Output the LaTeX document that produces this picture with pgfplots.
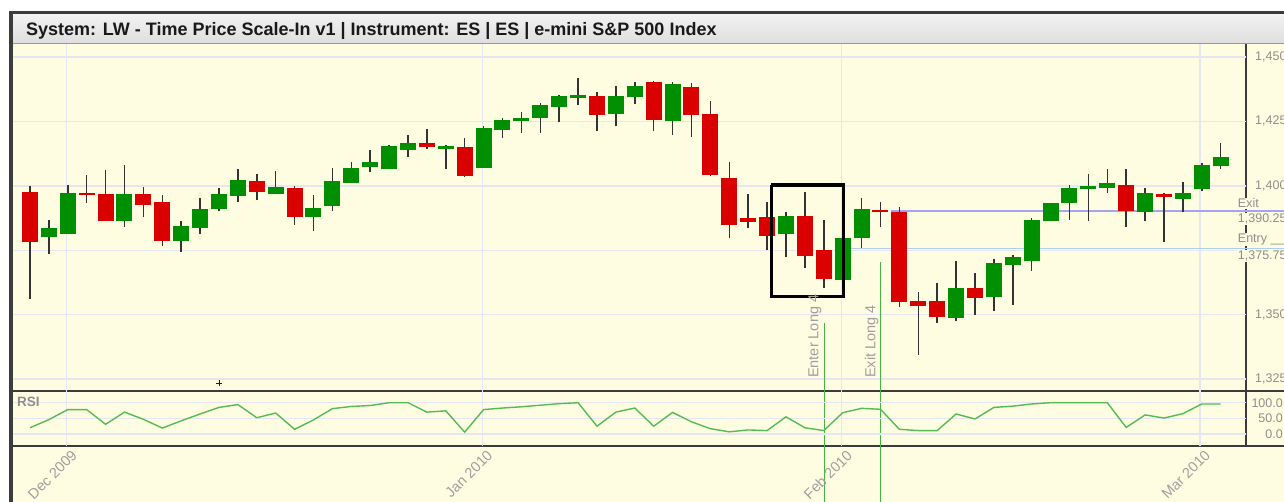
\documentclass[border=0pt]{standalone}
\usepackage{fontspec}
\setmainfont{Liberation Sans}
\usepackage{pgfplots}
\pgfplotsset{compat=1.18}
\usepackage{pgfplotstable}

\definecolor{bgy}{HTML}{FFFDE1}
\definecolor{gridc}{HTML}{E6E6F3}
\definecolor{upc}{HTML}{008F00}
\definecolor{dnc}{HTML}{DA0000}
\definecolor{wickc}{HTML}{333333}
\definecolor{rsic}{HTML}{55BB55}
\definecolor{sigc}{HTML}{44B444}
\definecolor{labc}{HTML}{8E8E8E}
\definecolor{framec}{HTML}{3C3C3C}
\definecolor{exitc}{HTML}{A4A4F0}
\definecolor{entryc}{HTML}{AECDF0}

% up (green) candles
\pgfplotstableread{
i o h l c
1 1380.2 1386.7 1373.7 1383.5
2 1381.4 1400.5 1381.4 1397.2
5 1386.5 1407.9 1384.1 1396.8
8 1378.7 1386.3 1374.2 1384.4
9 1383.8 1395.1 1381.4 1390.9
10 1391.1 1399.2 1390.1 1396.8
11 1396.0 1406.6 1393.8 1402.3
13 1397.0 1405.7 1397.0 1399.6
15 1387.9 1396.4 1382.3 1391.4
16 1392.0 1407.0 1390.1 1401.9
17 1401.2 1409.3 1401.2 1406.8
18 1407.2 1413.8 1405.2 1409.3
19 1406.4 1416.0 1406.4 1415.5
20 1414.0 1419.7 1411.2 1416.5
22 1414.4 1416.0 1406.6 1415.5
24 1407.1 1423.3 1407.1 1422.4
25 1421.8 1426.5 1418.4 1425.5
26 1425.3 1428.7 1420.6 1426.3
27 1426.3 1432.1 1420.6 1431.2
28 1430.4 1435.3 1424.7 1434.8
29 1434.2 1441.8 1431.3 1435.2
31 1427.7 1438.9 1423.1 1434.8
32 1434.5 1440.2 1431.7 1438.9
34 1425.0 1440.2 1419.8 1439.4
40 1381.2 1390.0 1372.4 1388.1
43 1363.6 1380.0 1363.6 1379.9
44 1379.7 1395.2 1375.8 1390.9
49 1348.7 1370.7 1347.7 1360.2
51 1357.0 1371.6 1351.3 1370.2
52 1369.3 1373.3 1353.7 1372.4
53 1370.7 1387.5 1367.1 1386.8
54 1386.3 1393.5 1386.3 1393.2
55 1393.2 1400.4 1386.7 1399.1
56 1398.7 1404.5 1386.2 1400.0
57 1399.1 1406.5 1397.2 1400.9
59 1389.8 1399.1 1386.2 1397.2
61 1395.0 1401.3 1389.8 1397.2
62 1398.7 1409.0 1397.8 1408.1
63 1407.5 1416.5 1406.5 1411.0
}\upT

% down (red) candles
\pgfplotstableread{
i o h l c
0 1397.7 1400.1 1356.2 1378.2
3 1397.2 1404.1 1393.3 1396.5
4 1396.8 1406.1 1386.5 1386.5
6 1396.8 1399.6 1387.9 1392.4
7 1393.6 1396.4 1376.8 1378.7
12 1401.8 1404.6 1394.3 1397.4
14 1399.1 1400.0 1384.7 1387.9
21 1416.5 1422.0 1414.4 1414.9
23 1415.2 1418.7 1403.4 1403.7
30 1434.8 1436.6 1421.1 1427.3
33 1440.2 1440.7 1421.1 1425.4
35 1438.4 1439.8 1418.9 1427.3
36 1428.0 1433.0 1403.7 1404.3
37 1403.2 1409.3 1379.9 1384.7
38 1387.6 1396.9 1383.8 1386.0
39 1387.7 1393.8 1375.1 1380.6
41 1388.1 1397.4 1368.1 1372.8
42 1375.0 1386.8 1360.4 1364.0
45 1390.7 1393.9 1384.0 1389.7
46 1389.8 1391.7 1352.8 1355.0
47 1355.4 1358.7 1334.5 1353.4
48 1355.4 1362.3 1346.8 1349.2
50 1360.2 1366.0 1350.0 1356.5
58 1400.4 1406.5 1384.0 1390.3
60 1396.9 1397.2 1378.2 1395.6
}\dnT

% RSI
\pgfplotstableread{
i r
0 20
1 46
2 78
3 78
4 31
5 70
6 47
7 19
8 42
9 64
10 85
11 94
12 52
13 67
14 15
15 45
16 81
17 88
18 91
19 100
20 100
21 70
22 74
23 6
24 78
25 83
26 87
27 92
28 97
29 100
30 25
31 70
32 83
33 25
34 69
35 39
36 17
37 7
38 13
39 11
40 55
41 20
42 11
43 68
44 82
45 79
46 15
47 11
48 11
49 64
50 48
51 85
52 89
53 96
54 100
55 100
56 100
57 100
58 21
59 61
60 51
61 65
62 96
63 96
}\rsiT

\pgfplotsset{candle/.style={draw=none, mark=none, forget plot,
  error bars/.cd, y dir=plus, y explicit, error mark=none,
  error bar style={draw=#1}}}

\begin{document}
\begin{tikzpicture}
% page and panel backgrounds
\fill[white] (0pt,0pt) rectangle (1284pt,-502pt);
\fill[bgy] (13pt,-44pt) rectangle (1284pt,-502pt);
\shade[top color=white!95!black, bottom color=white!87!black] (13pt,-14pt) rectangle (1284pt,-44pt);
\draw[white!60!black, line width=1pt] (13pt,-44pt) -- (1284pt,-44pt);
\fill[framec] (9pt,-11pt) rectangle (1284pt,-14pt);
\fill[framec] (9pt,-11pt) rectangle (13pt,-502pt);
\node[anchor=base west, inner sep=0pt, font=\bfseries\fontsize{18}{20}\selectfont, text=black!90]
  at (26pt,-35.5pt) {System: LW - Time Price Scale-In v1 | Instrument: ES | ES | e-mini S\&P 500 Index};
% panel frame lines
\draw[framec, line width=1.6pt] (1246pt,-44pt) -- (1246pt,-446pt);
\draw[framec, line width=1.6pt] (13pt,-391pt) -- (1284pt,-391pt);
\draw[framec, line width=1.6pt] (13pt,-446pt) -- (1284pt,-446pt);

% ---------------- price panel ----------------
\begin{axis}[
  at={(13pt,-391pt)}, anchor=south west,
  scale only axis, width=1233pt, height=347pt,
  xmin=-0.8995, xmax=64.339, ymin=1320.34, ymax=1455.05,
  axis line style={draw=none},
  major tick length=0pt,
  xtick={1.94,23.93,42.95,61.9}, xticklabels={},
  ytick={1325,1350,1375,1400,1425,1450},
  yticklabels={{1,325},{1,350},{},{1,400},{1,425},{1,450}},
  yticklabel pos=right,
  yticklabel style={anchor=west, inner sep=0pt, xshift=9pt,
    font=\fontsize{12.5}{13}\selectfont, text=labc},
  grid=major, major grid style={draw=gridc, line width=1.4pt},
  clip=false,
]
% exit / entry levels
\addplot[exitc, line width=1.4pt] coordinates {(45.55,1390.25) (66.4,1390.25)};
\addplot[entryc, line width=1.4pt] coordinates {(43.0,1375.75) (66.4,1375.75)};
% wicks
\addplot[candle=wickc, /pgfplots/error bars/error bar style={line width=1.5pt}]
  table[x=i, y=l, y error plus expr=\thisrow{h}-\thisrow{l}] {\upT};
\addplot[candle=wickc, /pgfplots/error bars/error bar style={line width=1.5pt}]
  table[x=i, y=l, y error plus expr=\thisrow{h}-\thisrow{l}] {\dnT};
% bodies
\addplot[candle=upc, /pgfplots/error bars/error bar style={line width=16pt}]
  table[x=i, y=o, y error plus expr=\thisrow{c}-\thisrow{o}] {\upT};
\addplot[candle=dnc, /pgfplots/error bars/error bar style={line width=16pt}]
  table[x=i, y=c, y error plus expr=\thisrow{o}-\thisrow{c}] {\dnT};
% highlight box
\addplot[black, line width=3.5pt] coordinates {(39.22,1400.4) (43.05,1400.4) (43.05,1357.0) (39.22,1357.0) (39.22,1400.4)};
% signal lines
\addplot[sigc, line width=1.4pt] coordinates {(42.03,1346.6) (42.03,1277.2)};
\addplot[sigc, line width=1.4pt] coordinates {(45.0,1370.5) (45.0,1277.2)};
% blue marker
\addplot[only marks, mark=+, blue, mark size=3pt, line width=0.9pt] coordinates {(10,1323.45)};
% signal texts
\node[rotate=90, anchor=west, inner sep=0pt, text=labc!85, font=\fontsize{14.5}{15}\selectfont]
  at (axis cs:41.53,1325.4) {Enter Long 4};
\node[rotate=90, anchor=west, inner sep=0pt, text=labc!85, font=\fontsize{14.5}{15}\selectfont]
  at (axis cs:44.53,1325.4) {Exit Long 4};
% level labels
\node[anchor=south west, inner sep=1pt, fill=bgy, text=labc, font=\fontsize{12.5}{13}\selectfont]
  at (axis cs:63.85,1390.9) {Exit};
\node[anchor=north west, inner sep=1pt, fill=bgy, text=labc, font=\fontsize{12.5}{13}\selectfont]
  at (axis cs:63.85,1389.6) {1,390.25};
\node[anchor=south west, inner sep=1pt, fill=bgy, text=labc, font=\fontsize{12.5}{13}\selectfont]
  at (axis cs:63.85,1376.4) {Entry \_\_};
\node[anchor=north west, inner sep=1pt, fill=bgy, text=labc, font=\fontsize{12.5}{13}\selectfont]
  at (axis cs:63.85,1375.1) {1,375.75};
\end{axis}

% ---------------- RSI panel ----------------
\begin{axis}[
  at={(13pt,-446pt)}, anchor=south west,
  scale only axis, width=1233pt, height=55pt,
  xmin=-0.8995, xmax=64.339, ymin=-38.3, ymax=137.4,
  axis line style={draw=none},
  major tick length=0pt,
  xtick={1.94,23.93,42.95,61.9},
  xticklabels={Dec 2009, Jan 2010, Feb 2010, Mar 2010},
  xticklabel style={inner sep=0pt, anchor=north east, xshift=4pt, yshift=-3pt, rotate=45,
    font=\fontsize{14.5}{15}\selectfont, text=labc!85},
  ytick={0,50,100},
  yticklabels={0.0,50.0,100.0},
  yticklabel pos=right,
  yticklabel style={anchor=east, inner sep=0pt, xshift=37pt,
    font=\fontsize{12.5}{13}\selectfont, text=labc},
  grid=major, major grid style={draw=gridc, line width=1.4pt},
  clip=false,
]
\addplot[rsic, line width=1.4pt] table[x=i, y=r] {\rsiT};
\end{axis}
\node[anchor=base west, inner sep=0pt, font=\bfseries\fontsize{13.5}{14}\selectfont, text=labc]
  at (17pt,-406pt) {RSI};

\pgfresetboundingbox
\path[use as bounding box] (0pt,0pt) rectangle (1284pt,-502pt);
\end{tikzpicture}
\end{document}
